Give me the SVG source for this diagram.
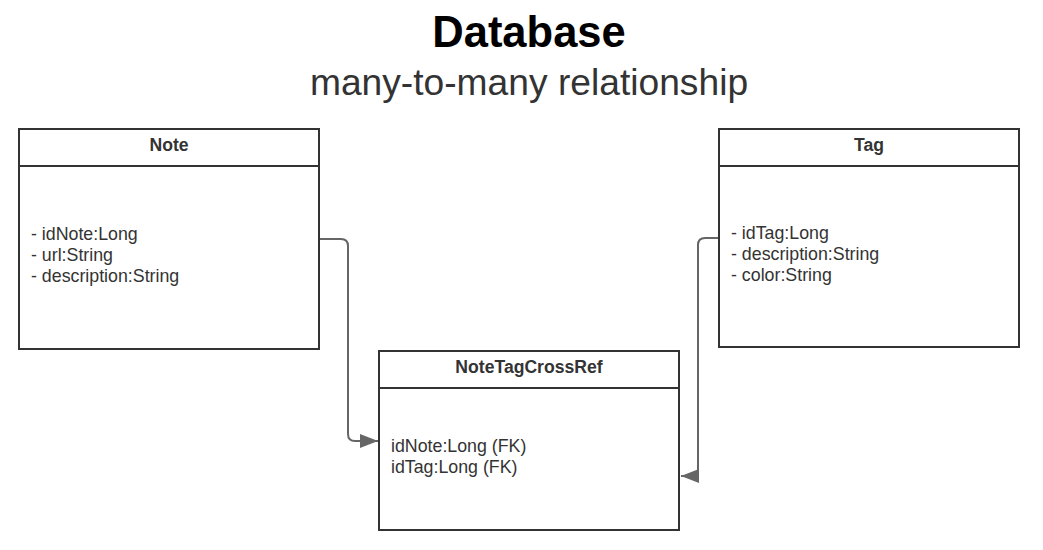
<svg xmlns="http://www.w3.org/2000/svg" width="1043" height="550" viewBox="0 0 1043 550">
<style>
.box{fill:#fff;stroke:#333;stroke-width:2}
.div{stroke:#333;stroke-width:2}
.hdr{font-family:"Liberation Sans",Arial,sans-serif;font-weight:bold;font-size:17.6px;fill:#333;text-anchor:middle}
.attr{font-family:"Liberation Sans",Arial,sans-serif;font-size:17.8px;fill:#333}
.con{fill:none;stroke:#666;stroke-width:2}
</style>
<defs>
<marker id="arrw" markerWidth="18" markerHeight="14" refX="18" refY="7" orient="auto" markerUnits="userSpaceOnUse" viewBox="0 0 18 14">
<path d="M0,0 L18,7 L0,14 Z" fill="#666"/>
</marker>
</defs>
<text x="529" y="47" font-family="Liberation Sans,Arial,sans-serif" font-weight="bold" font-size="43.5" text-anchor="middle" fill="#000">Database</text>
<text x="529" y="95" font-family="Liberation Sans,Arial,sans-serif" font-size="37.2" text-anchor="middle" fill="#333">many-to-many relationship</text>
<g id="connectors">
<path class="con" d="M320,239 H341 Q348,239 348,246 V434 Q348,441 355,441 H378" marker-end="url(#arrw)"/>
<path class="con" d="M719,238 H705 Q698,238 698,245 V476 H681" marker-end="url(#arrw)"/>
</g>
<g id="note">
<rect class="box" x="19" y="129" width="300" height="220"/>
<line class="div" x1="19" y1="166" x2="319" y2="166"/>
<text class="hdr" x="169" y="151">Note</text>
<text class="attr" x="31" y="240">- idNote:Long</text>
<text class="attr" x="31" y="261">- url:String</text>
<text class="attr" x="31" y="282">- description:String</text>
</g>
<g id="tag">
<rect class="box" x="719" y="129" width="300" height="218"/>
<line class="div" x1="719" y1="166" x2="1019" y2="166"/>
<text class="hdr" x="869" y="151">Tag</text>
<text class="attr" x="731" y="239">- idTag:Long</text>
<text class="attr" x="731" y="260">- description:String</text>
<text class="attr" x="731" y="281">- color:String</text>
</g>
<g id="notetagcrossref">
<rect class="box" x="379" y="351" width="300" height="179"/>
<line class="div" x1="379" y1="388" x2="679" y2="388"/>
<text class="hdr" x="529" y="373">NoteTagCrossRef</text>
<text class="attr" x="391" y="452">idNote:Long (FK)</text>
<text class="attr" x="391" y="473">idTag:Long (FK)</text>
</g>
</svg>
